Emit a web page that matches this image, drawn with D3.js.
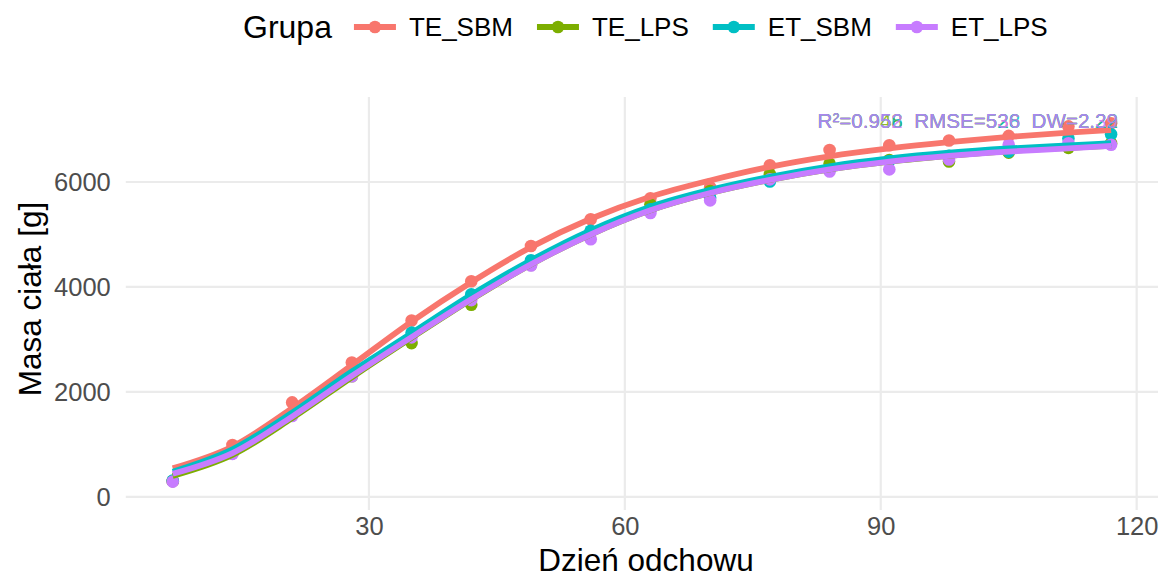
<!DOCTYPE html>
<meta charset="utf-8">
<body style="margin:0;background:#fff">
<div id="chart"></div>
<script src="https://d3js.org/d3.v7.min.js"></script>
<script>
  // dni odchowu
  var days = [7, 14, 21, 28, 35, 42, 49, 56, 63, 70, 77, 84, 91, 98, 105, 112, 117];
  var groups = ["TE_SBM", "TE_LPS", "ET_SBM", "ET_LPS"];
  var colors = ["#F8766D", "#7CAE00", "#00BFC4", "#C77CFF"];

  // observed body mass [g]
  var obsTE_SBM = [300, 990, 1800, 2560, 3360, 4110, 4780, 5290, 5690, 5900, 6320, 6610, 6700, 6790, 6880, 7060, 7120];
  var obsTE_LPS = [300, 830, 1560, 2300, 2930, 3660, 4420, 5060, 5570, 5830, 6150, 6350, 6420, 6390, 6560, 6650, 6740];
  var obsET_SBM = [310, 860, 1600, 2360, 3130, 3860, 4510, 5070, 5480, 5700, 6010, 6230, 6400, 6500, 6580, 6830, 6910];
  var obsET_LPS = [290, 820, 1540, 2300, 3040, 3750, 4410, 4910, 5410, 5650, 6050, 6200, 6240, 6430, 6710, 6740, 6710];

  // fitted curve values read at the same days
  var fitTE_SBM = [545, 960, 1690, 2510, 3340, 4090, 4760, 5300, 5720, 6030, 6290, 6490, 6640, 6760, 6860, 6940, 6990];
  var fitTE_LPS = [400, 800, 1500, 2280, 3030, 3760, 4430, 5000, 5460, 5790, 6040, 6240, 6390, 6500, 6590, 6650, 6690];
  var fitET_SBM = [480, 905, 1605, 2390, 3120, 3850, 4510, 5080, 5530, 5850, 6100, 6300, 6450, 6560, 6640, 6700, 6740];
  var fitET_LPS = [440, 835, 1530, 2305, 3045, 3765, 4430, 5000, 5460, 5790, 6040, 6240, 6390, 6500, 6580, 6640, 6690];

  // fit statistics
  var r2 = ["0.958", "0.948", "0.956", "0.952"];
  var rmse = ["536", "526", "528", "536"];
  var dw = ["2.22", "2.29", "2.22", "2.39"];

  var xTicks = [30, 60, 90, 120];
  var yTicks = [0, 2000, 4000, 6000];

  var observed = [obsTE_SBM, obsTE_LPS, obsET_SBM, obsET_LPS];
  var fitted = [fitTE_SBM, fitTE_LPS, fitET_SBM, fitET_LPS];

  var W = 1163, H = 578;
  var font = "'Liberation Sans', Arial, sans-serif";

  var svg = d3.select("#chart").append("svg")
    .attr("width", W)
    .attr("height", H)
    .style("font-family", font);

  var xScale = d3.scaleLinear().domain([1.5, 122.5]).range([125.8, 1158]);
  var yScale = d3.scaleLinear().domain([-250, 7620]).range([510, 97]);

  // grid
  var grid = svg.append("g");
  grid.selectAll("line.gy").data(yTicks).enter().append("line")
    .attr("x1", xScale.range()[0]).attr("x2", xScale.range()[1])
    .attr("y1", function(d) { return yScale(d); })
    .attr("y2", function(d) { return yScale(d); })
    .attr("stroke", "#EBEBEB").attr("stroke-width", 2.2);
  grid.selectAll("line.gx").data(xTicks).enter().append("line")
    .attr("y1", yScale.range()[0]).attr("y2", yScale.range()[1])
    .attr("x1", function(d) { return xScale(d); })
    .attr("x2", function(d) { return xScale(d); })
    .attr("stroke", "#EBEBEB").attr("stroke-width", 2.2);

  // axes (labels only, like theme_minimal)
  var xAxis = svg.append("g")
    .attr("transform", "translate(0," + yScale.range()[0] + ")")
    .call(d3.axisBottom(xScale).tickValues(xTicks).tickSize(0).tickPadding(7));
  var yAxis = svg.append("g")
    .attr("transform", "translate(" + (xScale.range()[0] - 5) + ",0)")
    .call(d3.axisLeft(yScale).tickValues(yTicks).tickSize(0).tickPadding(10).tickFormat(d3.format("d")));
  [xAxis, yAxis].forEach(function(a) {
    a.select(".domain").remove();
    a.selectAll("text")
      .attr("fill", "#4D4D4D")
      .style("font-size", "25.5px")
      .style("font-family", font);
  });

  // points first, then lines
  var plot = svg.append("g");
  groups.forEach(function(g, i) {
    plot.selectAll("circle.p" + i).data(observed[i]).enter().append("circle")
      .attr("cx", function(d, j) { return xScale(days[j]); })
      .attr("cy", function(d) { return yScale(d); })
      .attr("r", 6.3)
      .attr("fill", colors[i]);
  });

  var line = d3.line()
    .x(function(d, j) { return xScale(days[j]); })
    .y(function(d) { return yScale(d); })
    .curve(d3.curveMonotoneX);

  groups.forEach(function(g, i) {
    plot.append("path")
      .datum(fitted[i])
      .attr("d", line)
      .attr("fill", "none")
      .attr("stroke", colors[i])
      .attr("stroke-width", 5.8);
  });

  // fit statistics labels, all at the same place
  groups.forEach(function(g, i) {
    svg.append("text")
      .attr("x", 1118)
      .attr("y", 120)
      .attr("text-anchor", "end")
      .attr("dominant-baseline", "central")
      .attr("fill", colors[i])
      .attr("fill-opacity", 0.85)
      .style("font-size", "20.6px")
      .style("white-space", "pre")
      .text("R\u00B2=" + r2[i] + "  RMSE=" + rmse[i] + "  DW=" + dw[i]);
  });

  // axis titles
  svg.append("text")
    .attr("x", 646).attr("y", 560)
    .attr("text-anchor", "middle")
    .attr("dominant-baseline", "central")
    .style("font-size", "31.5px")
    .text("Dzień odchowu");
  svg.append("text")
    .attr("transform", "translate(30,299) rotate(-90)")
    .attr("text-anchor", "middle")
    .attr("dominant-baseline", "central")
    .style("font-size", "31.5px")
    .text("Masa ciała [g]");

  // legend
  var legend = svg.append("g");
  var ly = 27;
  var title = legend.append("text")
    .attr("x", 243).attr("y", ly)
    .attr("dominant-baseline", "central")
    .style("font-size", "32px")
    .text("Grupa");
  var lx = 243 + title.node().getComputedTextLength() + 19;
  groups.forEach(function(g, i) {
    legend.append("line")
      .attr("x1", lx + 3).attr("x2", lx + 45)
      .attr("y1", ly).attr("y2", ly)
      .attr("stroke", colors[i]).attr("stroke-width", 5.8);
    legend.append("circle")
      .attr("cx", lx + 24).attr("cy", ly).attr("r", 6.3)
      .attr("fill", colors[i]);
    var t = legend.append("text")
      .attr("x", lx + 58).attr("y", ly)
      .attr("dominant-baseline", "central")
      .style("font-size", "26px")
      .text(g);
    lx += 58 + t.node().getComputedTextLength() + 21;
  });
</script>
</body>
